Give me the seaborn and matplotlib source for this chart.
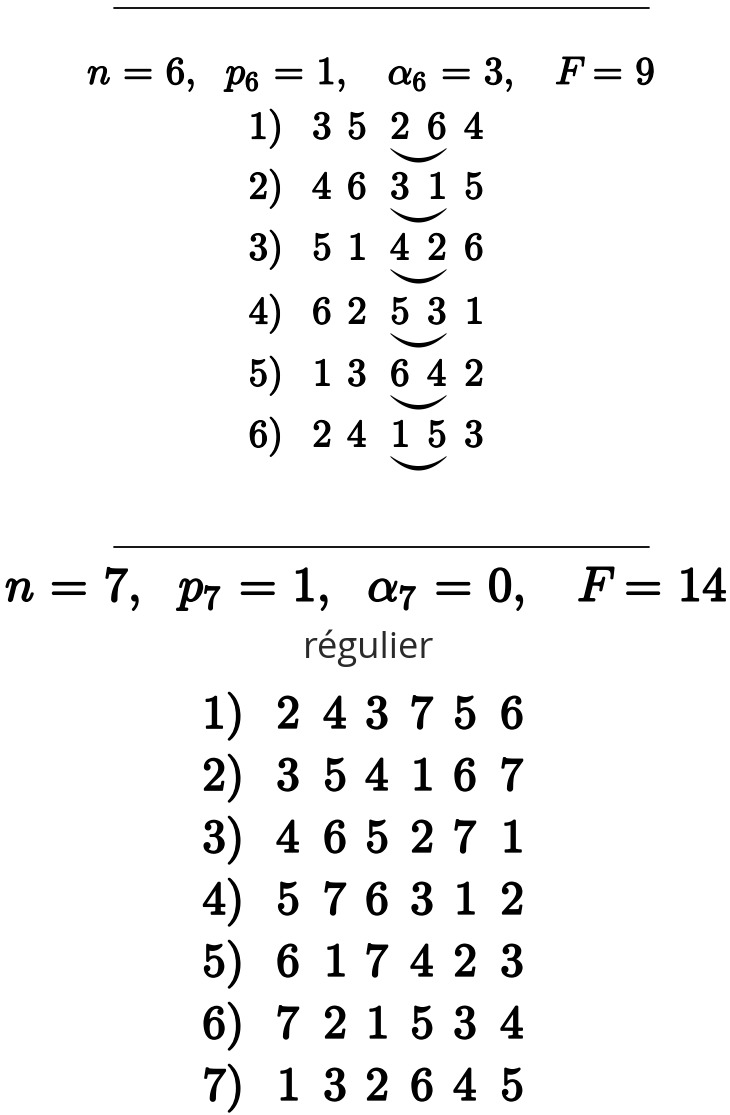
import numpy as np
import matplotlib
matplotlib.use("Agg")
import matplotlib.pyplot as plt
import seaborn as sns
from matplotlib import patheffects as pe

# ---------------- data ----------------
header6 = r"$n\,=\,6,\ \ p_6\,=\,1,\ \ \ \alpha_6\,=\,3,\ \ \ F\,=\,9$"
labels6 = ["1)", "2)", "3)", "4)", "5)", "6)"]
perm6 = [
    [3, 5, 2, 6, 4],
    [4, 6, 3, 1, 5],
    [5, 1, 4, 2, 6],
    [6, 2, 5, 3, 1],
    [1, 3, 6, 4, 2],
    [2, 4, 1, 5, 3],
]
header7 = r"$n\,=\,7,\ \ p_7\,=\,1,\ \ \alpha_7\,=\,0,\ \ \ F\,=\,14$"
subtitle7 = "régulier"
labels7 = ["1)", "2)", "3)", "4)", "5)", "6)", "7)"]
perm7 = [
    [2, 4, 3, 7, 5, 6],
    [3, 5, 4, 1, 6, 7],
    [4, 6, 5, 2, 7, 1],
    [5, 7, 6, 3, 1, 2],
    [6, 1, 7, 4, 2, 3],
    [7, 2, 1, 5, 3, 4],
    [1, 3, 2, 6, 4, 5],
]

# ---------------- style ----------------
sns.set_theme(style="white")
plt.rcParams["font.family"] = ["DejaVu Sans"]
plt.rcParams["mathtext.fontset"] = "cm"

W, H = 730, 1115
fig = plt.figure(figsize=(W / 100, H / 100), dpi=100)
fig.patch.set_facecolor("white")
ax = fig.add_axes([0, 0, 1, 1])
ax.set_xlim(0, W)
ax.set_ylim(H, 0)
ax.axis("off")

bold1 = [pe.withStroke(linewidth=0.9, foreground="black")]
bold2 = [pe.withStroke(linewidth=1.2, foreground="black")]
renderer = fig.canvas.get_renderer()


def fit_text(x, y, s, target_w, fs0, **kw):
    t = ax.text(x, y, s, fontsize=fs0, **kw)
    bb = t.get_window_extent(renderer)
    t.set_fontsize(fs0 * target_w / bb.width)
    return t


def smile(cx, ytop, hw, depth, thick):
    u = np.linspace(-1, 1, 80)
    x = cx + hw * u
    shape = 1 - u ** 2
    y_in = ytop + depth * shape
    y_out = ytop + 1.0 + (depth + thick) * shape
    ax.fill(np.r_[x, x[::-1]], np.r_[y_in, y_out[::-1]], color="black", lw=0)


# ---------------- section n = 6 ----------------
sns.lineplot(x=[114, 649], y=[8, 8], ax=ax, color="black", lw=1.3)
fit_text(371, 84, header6, 568, 28, ha="center", va="baseline",
         color="black", path_effects=bold1)

lab6_x = 265
dig6_x = [322, 357, 400, 437, 474]
row6_y = [128, 188, 249, 313, 375, 436]
fs6 = 28
for lab, perm, yc in zip(labels6, perm6, row6_y):
    base = yc + 10.5
    ax.text(lab6_x, base, "$" + lab + "$", fontsize=fs6, ha="center",
            va="baseline", color="black", path_effects=bold1)
    for xv, v in zip(dig6_x, perm):
        ax.text(xv, base, f"${v}$", fontsize=fs6, ha="center",
                va="baseline", color="black", path_effects=bold1)
    smile((dig6_x[2] + dig6_x[3]) / 2, yc + 20, 28, 10, 3.5)

# ---------------- section n = 7 ----------------
sns.lineplot(x=[114, 649], y=[547, 547], ax=ax, color="black", lw=1.3)
fit_text(366, 601, header7, 722, 38, ha="center", va="baseline",
         color="black", path_effects=bold2)
fit_text(369, 658, subtitle7, 132, 26, ha="center", va="baseline",
         color="#2a2a2a", family=["Open Sans", "DejaVu Sans"])

lab7_x = 222
dig7_x = [288, 335, 377, 422, 465, 512]
row7_y = [712, 774, 836, 898, 960, 1022, 1084]
fs7 = 34
for lab, perm, yc in zip(labels7, perm7, row7_y):
    base = yc + 16
    ax.text(lab7_x, base, "$" + lab + "$", fontsize=fs7, ha="center",
            va="baseline", color="black", path_effects=bold2)
    for xv, v in zip(dig7_x, perm):
        ax.text(xv, base, f"${v}$", fontsize=fs7, ha="center",
                va="baseline", color="black", path_effects=bold2)

fig.savefig("out.png", dpi=100, facecolor="white")
